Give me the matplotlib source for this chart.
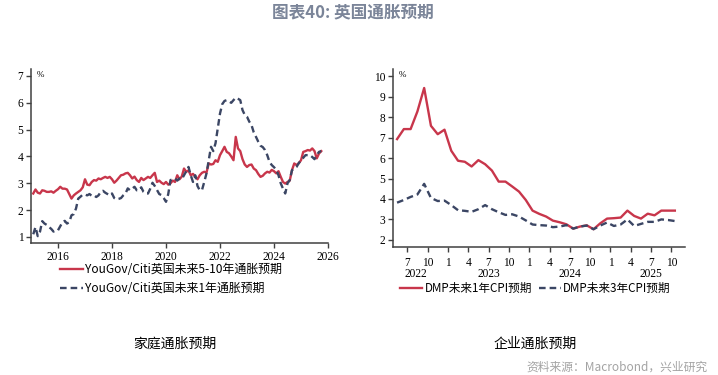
import matplotlib.pyplot as plt
import matplotlib.transforms as mtransforms
import numpy as np

plt.rcParams['font.family'] = ['Noto Sans CJK SC', 'DejaVu Sans']

# ===============================
# Dados - painel esquerdo (YouGov/Citi, mensal, fev/2015 - out/2025)
# ===============================
inicio_esq = 2015 + 1 / 12
yougov_5_10 = [
    2.62, 2.77, 2.65, 2.62, 2.74, 2.72, 2.68, 2.68, 2.70, 2.65, 2.72,
    2.78, 2.87, 2.80, 2.80, 2.77, 2.60, 2.43, 2.55, 2.62, 2.68, 2.74, 2.85,
    3.15, 2.95, 2.93, 3.05, 3.12, 3.10, 3.18, 3.15, 3.20, 3.24, 3.20, 3.24,
    3.15, 3.02, 3.10, 3.20, 3.30, 3.32, 3.37, 3.39, 3.30, 3.18, 3.25, 3.12,
    3.05, 3.20, 3.12, 3.18, 3.24, 3.20, 3.30, 3.39, 3.05, 3.10, 3.02, 2.97,
    3.05, 2.95, 3.00, 3.10, 3.05, 3.30, 3.15, 3.25, 3.55, 3.43, 3.48, 3.30,
    3.35, 3.25, 3.15, 3.30, 3.39, 3.43, 3.40, 3.74, 3.70, 3.72, 3.86, 3.80,
    4.05, 4.20, 4.36, 4.17, 4.12, 4.00, 3.86, 4.73, 4.30, 4.20, 3.90, 3.70,
    3.61, 3.68, 3.70, 3.55, 3.49, 3.35, 3.24, 3.28, 3.37, 3.43, 3.40, 3.50,
    3.45, 3.37, 3.45, 3.24, 3.05, 2.99, 3.05, 3.10, 3.49, 3.74, 3.68, 3.75,
    3.86, 4.17, 4.20, 4.24, 4.22, 4.30, 4.20, 3.93, 4.11, 4.20,
]
yougov_1 = [
    1.10, 1.37, 1.03, 1.20, 1.59, 1.50, 1.45, 1.37, 1.30, 1.20, 1.25,
    1.25, 1.40, 1.55, 1.60, 1.50, 1.55, 1.81, 1.85, 2.06, 2.43, 2.50, 2.58,
    2.58, 2.55, 2.60, 2.53, 2.55, 2.49, 2.55, 2.68, 2.72, 2.65, 2.60, 2.55,
    2.62, 2.45, 2.40, 2.42, 2.45, 2.55, 2.62, 2.81, 2.74, 2.80, 2.87, 2.74,
    2.74, 2.85, 2.68, 2.62, 2.62, 2.80, 3.02, 2.90, 2.75, 2.60, 2.56, 2.45,
    2.31, 2.60, 3.12, 3.15, 3.18, 3.10, 3.18, 3.15, 3.30, 3.45, 3.61, 3.30,
    3.05, 3.30, 2.90, 2.74, 2.75, 3.05, 3.37, 3.86, 4.36, 4.20, 4.49, 5.05,
    5.60, 5.95, 6.07, 6.10, 6.05, 6.00, 6.10, 6.19, 6.15, 6.10, 5.73, 5.55,
    5.48, 5.30, 5.17, 4.90, 4.73, 4.55, 4.40, 4.35, 4.24, 4.05, 3.80, 3.68,
    3.60, 3.50, 3.30, 3.00, 2.80, 2.62, 3.00, 3.12, 3.49, 3.55, 3.61, 3.75,
    3.86, 3.95, 4.05, 4.05, 4.05, 3.98, 3.90, 4.05, 4.17, 4.20,
]
anos_ticks = [2016, 2018, 2020, 2022, 2024, 2026]

# ===============================
# Dados - painel direito (DMP, mensal, mai/2022 - out/2025)
# ===============================
inicio_dir = 4  # meses desde jan/2022 (mai/2022)
dmp_1 = [
    6.93, 7.42, 7.42, 8.28, 9.43, 7.58, 7.17, 7.39, 6.36, 5.87, 5.82, 5.59,
    5.90, 5.70, 5.39, 4.85, 4.85, 4.61, 4.36, 3.95, 3.43, 3.27, 3.14, 2.94,
    2.86, 2.76, 2.55, 2.65, 2.71, 2.52, 2.81, 3.04, 3.06, 3.09, 3.43, 3.17,
    3.04, 3.28, 3.20, 3.43, 3.43, 3.43,
]
dmp_3 = [
    3.82, 3.95, 4.10, 4.22, 4.74, 4.05, 3.90, 3.92, 3.70, 3.45, 3.42, 3.37,
    3.50, 3.70, 3.50, 3.35, 3.22, 3.25, 3.14, 2.95, 2.75, 2.72, 2.70, 2.62,
    2.65, 2.72, 2.55, 2.65, 2.70, 2.52, 2.70, 2.85, 2.68, 2.75, 3.00, 2.68,
    2.78, 2.88, 2.88, 3.00, 2.97, 2.92,
]
anos_dir = ['2022', '2023', '2024', '2025']

vermelho = '#c8364b'
azul = '#3b4664'
eixo = '#404040'
serif = 'Liberation Serif'
tracejado = (2.8, 1.7)

x_esq = inicio_esq + np.arange(len(yougov_5_10)) / 12
x_dir = inicio_dir + 0.5 + np.arange(len(dmp_1))

# ===============================
# Figura
# ===============================
fig = plt.figure(figsize=(7.18, 3.75), dpi=100)
ax1 = fig.add_axes([31 / 718, 1 - 243 / 375, 297 / 718, 174 / 375])
ax2 = fig.add_axes([393 / 718, 1 - 247 / 375, 292 / 718, 178 / 375])

fig.text(353 / 718, 1 - 12 / 375, '图表40: 英国通胀预期', ha='center', va='center',
         fontsize=12, fontweight='bold', color='#7b8599')

for ax in (ax1, ax2):
    for lado in ('top', 'right'):
        ax.spines[lado].set_visible(False)
    for lado in ('left', 'bottom'):
        ax.spines[lado].set_color(eixo)
        ax.spines[lado].set_linewidth(1.1)
    ax.tick_params(direction='out', length=3.5, width=1, color=eixo,
                   labelsize=8, pad=2)

# --- painel esquerdo
ax1.plot(x_esq, yougov_5_10, color=vermelho, lw=1.7,
         label='YouGov/Citi英国未来5-10年通胀预期')
ax1.plot(x_esq, yougov_1, color=azul, lw=1.7, dashes=tracejado,
         label='YouGov/Citi英国未来1年通胀预期')
ax1.set_xlim(2015, 2026)
ax1.set_ylim(0.775, 7.26)
ax1.set_yticks(range(1, 8))
ax1.set_xticks(anos_ticks)
ax1.set_xticklabels([str(a) for a in anos_ticks], family=serif, fontsize=8.3)
ax1.set_yticklabels([str(v) for v in range(1, 8)], family=serif, fontsize=8.3)
ax1.text(0.02, 0.965, '%', transform=ax1.transAxes, fontsize=6.5,
         family=serif, va='center', ha='left')

# --- painel direito
ax2.plot(x_dir, dmp_1, color=vermelho, lw=1.7, label='DMP未来1年CPI预期')
ax2.plot(x_dir, dmp_3, color=azul, lw=1.7, dashes=tracejado,
         label='DMP未来3年CPI预期')
ax2.set_xlim(3.9, 47.0)
ax2.set_ylim(1.65, 10.36)
ax2.set_yticks(range(2, 11))
ax2.set_yticklabels([str(v) for v in range(2, 11)], family=serif, fontsize=8.3)
meses = list(range(6, 46, 3))
ax2.set_xticks(meses)
ax2.set_xticklabels([str(m % 12 + 1) for m in meses], family=serif, fontsize=8.3)
ax2.tick_params(axis='x', pad=4)
trans = mtransforms.blended_transform_factory(ax2.transData, ax2.transAxes)
for pos, ano in zip([7.3, 18, 30, 42], anos_dir):
    ax2.text(pos, -0.152, ano, transform=trans, ha='center', va='center',
             family=serif, fontsize=8.3)
ax2.text(0.02, 0.965, '%', transform=ax2.transAxes, fontsize=6.5,
         family=serif, va='center', ha='left')

# ===============================
# Legendas e textos
# ===============================
fig.legend(handles=ax1.get_lines(), loc='upper left',
           bbox_to_anchor=(60 / 718, 1 - 263 / 375), frameon=False,
           fontsize=8.6, handlelength=1.9, handletextpad=0.2,
           labelspacing=0.5, borderpad=0, borderaxespad=0)
fig.legend(handles=ax2.get_lines(), loc='upper left',
           bbox_to_anchor=(400 / 718, 1 - 282 / 375), frameon=False, ncol=2,
           fontsize=8.4, handlelength=1.9, handletextpad=0.2,
           columnspacing=0.6, borderpad=0, borderaxespad=0)

fig.text(175 / 718, 1 - 344 / 375, '家庭通胀预期', ha='center', va='center',
         fontsize=10)
fig.text(535 / 718, 1 - 344 / 375, '企业通胀预期', ha='center', va='center',
         fontsize=10)
fig.text(708 / 718, 1 - 367 / 375, '资料来源：Macrobond，兴业研究', ha='right',
         va='center', fontsize=8.5, color='#a3a3a3')

fig.savefig('out.png', dpi=100)
plt.close(fig)
